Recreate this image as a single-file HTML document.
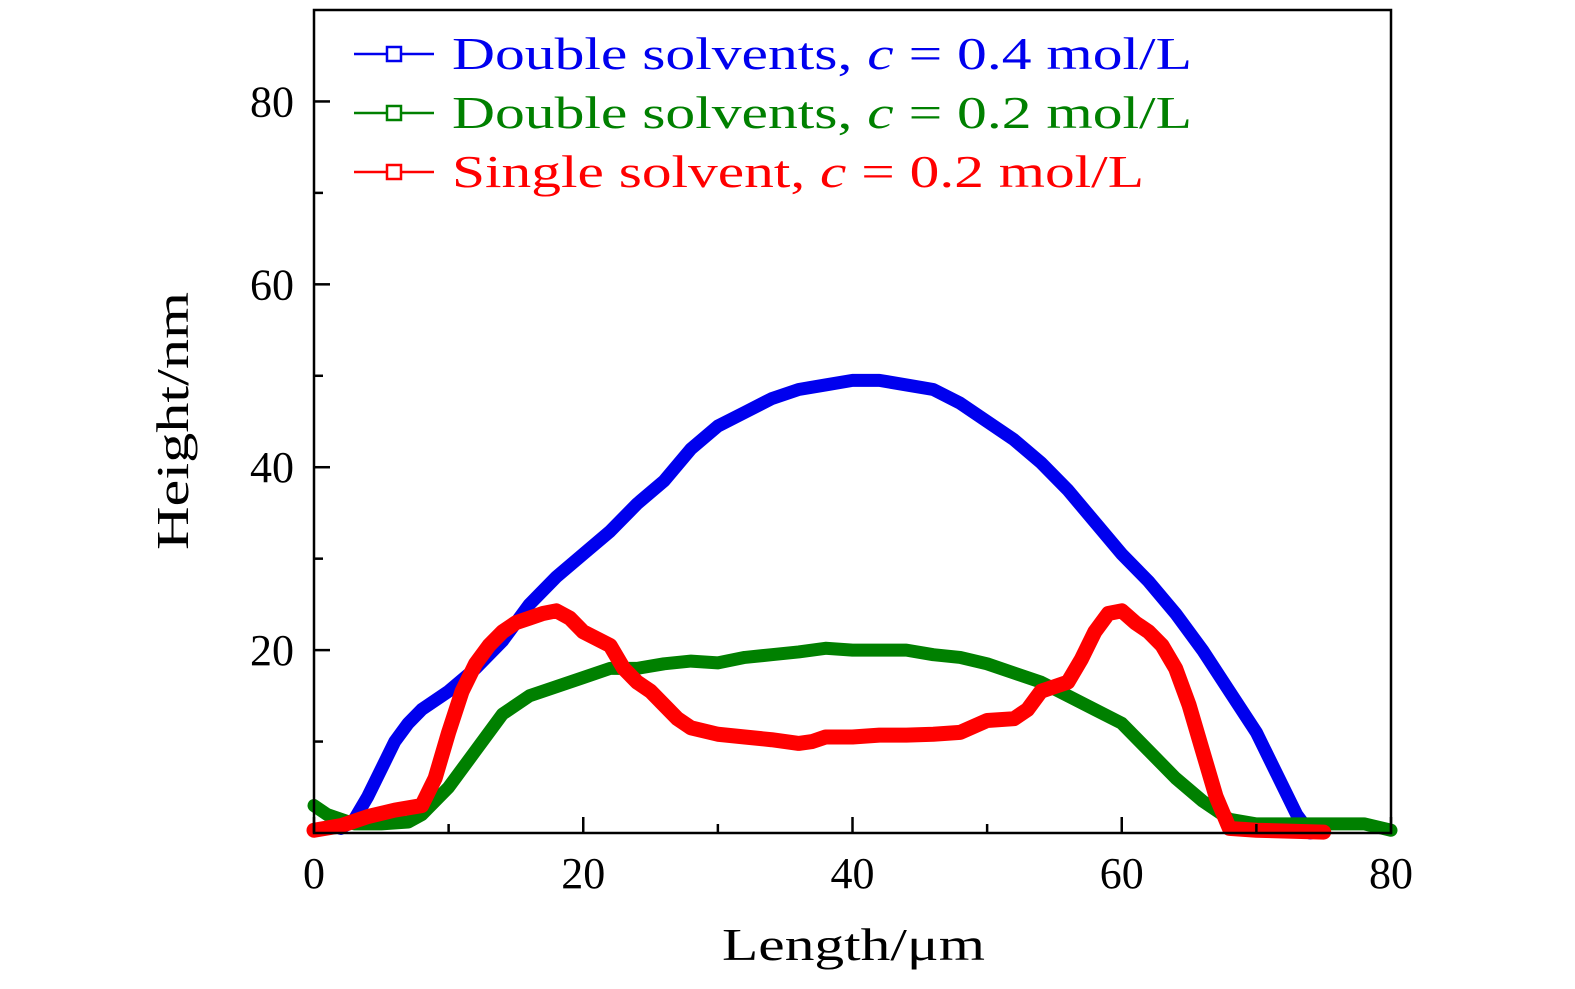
<!DOCTYPE html>
<html><head><meta charset="utf-8"><style>
body{margin:0;background:#fff;}
svg text{font-family:"Liberation Serif","DejaVu Serif",serif;}
</style></head><body>
<svg id="chart" width="1575" height="984" viewBox="0 0 1575 984" xmlns="http://www.w3.org/2000/svg">
<g id="series"></g>
<g id="axes"></g>
<g id="legend"></g>
</svg>
<script>
const xTicks=[0,20,40,60,80];
const xMinor=[10,30,50,70];
const yTicks=[20,40,60,80];
const yMinor=[10,30,50,70];
const blueX=[2,3,4,5,6,7,8,10,12,14,16,18,20,22,24,26,28,30,32,34,36,38,40,42,44,46,48,50,52,54,56,58,60,62,64,66,68,70,72,73,74];
const blueY=[0.5,1.5,4,7,10,12,13.5,15.5,18,21,25,28,30.5,33,36,38.5,42,44.5,46,47.5,48.5,49,49.5,49.5,49,48.5,47,45,43,40.5,37.5,34,30.5,27.5,24,20,15.5,11,5,2,0];
const greenX=[0,1,3,5,7,8,10,12,14,16,18,20,22,24,26,28,30,32,34,36,38,40,42,44,46,48,50,52,54,56,58,60,62,64,66,68,70,72,76,78,80];
const greenY=[3,2,1,1,1.2,2,5,9,13,15,16,17,18,18,18.5,18.8,18.6,19.2,19.5,19.8,20.2,20,20,20,19.5,19.2,18.5,17.5,16.5,15,13.5,12,9,6,3.5,1.5,1,1,1,1,0.3];
const redX=[0,2,4,6,8,9,10,11,12,13,14,15,16,17,18,19,20,22,23,24,25,26,27,28,30,32,34,36,37,38,40,42,44,46,48,50,52,53,54,55,56,57,58,59,60,61,62,63,64,65,66,67,68,70,75];
const redY=[0.3,0.8,1.8,2.5,3,6,11,15.5,18.5,20.5,22,23,23.5,24,24.3,23.5,22,20.5,18,16.5,15.5,14,12.5,11.5,10.8,10.5,10.2,9.8,10,10.5,10.5,10.7,10.7,10.8,11,12.3,12.5,13.5,15.5,16,16.5,19,22,24,24.3,23,22,20.5,18,14,9,4,0.5,0.3,0.1];
const L=314,R=1391,T=10,B=833;
const sx=v=>L+(v/80)*(R-L);
const sy=v=>B-(v/90)*(B-T);
const NS="http://www.w3.org/2000/svg";
function mk(tag,attrs,parent){const e=document.createElementNS(NS,tag);for(const k in attrs)e.setAttribute(k,attrs[k]);parent.appendChild(e);return e;}
const sg=document.getElementById('series');
function series(xs,ys,color,w,name){
  const pts=xs.map((x,i)=>sx(x)+','+sy(ys[i])).join(' ');
  const p=mk('polyline',{points:pts,fill:'none',stroke:color,'stroke-width':w,'stroke-linejoin':'round','stroke-linecap':'round'},sg);
  
  
}
series(blueX,blueY,'#0000ee',13,'series-double-0-4');
series(greenX,greenY,'#008000',13,'series-double-0-2');
series(redX,redY,'#ff0000',15,'series-single-0-2');
const ag=document.getElementById('axes');
const frame=mk('rect',{x:L,y:T,width:R-L,height:B-T,fill:'none',stroke:'#000','stroke-width':2.5},ag);


xTicks.forEach(v=>{
  mk('line',{x1:sx(v),x2:sx(v),y1:B,y2:B-16,stroke:'#000','stroke-width':2.5},ag);
  const t=mk('text',{x:sx(v),y:888,'font-size':44,'text-anchor':'middle'},ag);t.textContent=v;
  
  
});
xMinor.forEach(v=>mk('line',{x1:sx(v),x2:sx(v),y1:B,y2:B-9,stroke:'#000','stroke-width':2.5},ag));
yTicks.forEach(v=>{
  mk('line',{x1:L,x2:L+16,y1:sy(v),y2:sy(v),stroke:'#000','stroke-width':2.5},ag);
  const t=mk('text',{x:294,y:sy(v)+15,'font-size':44,'text-anchor':'end'},ag);t.textContent=v;
  
  
});
yMinor.forEach(v=>mk('line',{x1:L,x2:L+9,y1:sy(v),y2:sy(v),stroke:'#000','stroke-width':2.5},ag));
const xt=mk('text',{x:722,y:960,'font-size':46,textLength:263,lengthAdjust:'spacingAndGlyphs'},ag);xt.textContent='Length/μm';


const yt=mk('text',{x:-550,y:0,'font-size':46,textLength:258,lengthAdjust:'spacingAndGlyphs',transform:'translate(188,0) rotate(-90)'},ag);yt.textContent='Height/nm';


const lg=document.getElementById('legend');
const entries=[['#0000ee','Double solvents, ','0.4',54,740],['#008000','Double solvents, ','0.2',113,740],['#ff0000','Single solvent, ','0.2',172,692]];
entries.forEach(e=>{
  const g=mk('g',{},lg);
  
  
  mk('line',{x1:354,x2:434,y1:e[3],y2:e[3],stroke:e[0],'stroke-width':2.5},g);
  mk('rect',{x:387,y:e[3]-7,width:14,height:14,fill:'#fff',stroke:e[0],'stroke-width':2.5},g);
  const t=mk('text',{x:452,y:e[3]+15,'font-size':46,fill:e[0],textLength:e[4],lengthAdjust:'spacingAndGlyphs'},g);
  t.innerHTML=e[1]+'<tspan font-style="italic">c</tspan> = '+e[2]+' mol/L';
});
</script>
</body></html>
